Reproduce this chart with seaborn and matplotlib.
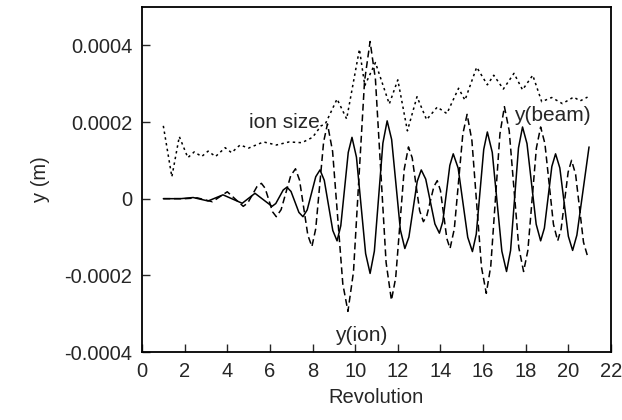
import numpy as np
import pandas as pd
import matplotlib
matplotlib.use("Agg")
import matplotlib.pyplot as plt
import seaborn as sns
from matplotlib.ticker import FixedLocator, FuncFormatter

# values, y in units of 1e-5 m

# beam centroid (solid line)
beam_rev = [1.0, 1.8, 2.4, 3.1, 3.8, 4.7, 5.3, 6.1, 6.275, 6.625, 6.8, 6.99, 7.36,
            7.55, 7.75, 8.15, 8.35, 8.55, 8.95, 9.15, 9.325, 9.675, 9.85, 10.06,
            10.49, 10.7, 10.9, 11.3, 11.5, 11.71, 12.12, 12.33, 12.52, 12.91, 13.1,
            13.31, 13.74, 13.95, 14.11, 14.44, 14.6, 14.83, 15.28, 15.5, 15.68,
            16.03, 16.2, 16.43, 16.88, 17.1, 17.29, 17.66, 17.85, 18.06, 18.49,
            18.7, 18.875, 19.225, 19.4, 19.6, 20.0, 20.2, 20.4, 20.97]
beam_y = [0, 0, 0.3, -0.6, 1.0, -1.2, 1.4, -2.0, -1.27, 2.27, 3.0, 1.88, -3.58,
          -4.7, -2.92, 5.72, 7.5, 4.8, -8.3, -11, -7.06, 12.06, 16, 10.82,
          -14.32, -19.5, -13.69, 14.49, 20.3, 15.44, -8.14, -13, -10.01, 4.51, 7.5,
          5.09, -6.59, -9, -5.98, 8.68, 11.7, 7.98, -10.08, -13.8, -9.24,
          12.84, 17.4, 12.09, -13.69, -19, -13.5, 13.2, 18.7, 14.36, -6.66,
          -11, -7.69, 8.39, 11.7, 8.02, -9.82, -13.5, -9.5, 13.5]

# ion centroid (dashed line)
ion_rev = [1.0, 2.0, 2.6, 3.3, 4.0, 4.75, 4.96, 5.39, 5.6, 5.775, 6.125, 6.3,
           6.525, 6.975, 7.2, 7.39, 7.78, 7.97, 8.15, 8.52, 8.7, 8.94, 9.42, 9.66,
           9.92, 10.44, 10.7, 10.95, 11.45, 11.7, 11.9, 12.3, 12.5, 12.675, 13.025,
           13.2, 13.36, 13.69, 13.85, 14.0, 14.3, 14.45, 14.65, 15.05, 15.25,
           15.475, 15.925, 16.15, 16.36, 16.79, 17.0, 17.225, 17.675, 17.9, 18.1,
           18.5, 18.7, 18.9, 19.3, 19.5, 19.66, 19.99, 20.15, 20.34, 20.71, 20.9]
ion_y = [0, 0, 0.2, -0.8, 1.8, -2.0, -1.12, 3.12, 4.0, 2.73, -3.43, -4.7,
         -2.87, 5.97, 7.8, 4.84, -9.54, -12.5, -7.83, 14.83, 19.5, 12.36, -22.26,
         -29.4, -19.12, 30.72, 41, 31.14, -16.64, -26.5, -20.66, 7.66, 13.5, 10.65,
         -3.15, -6.0, -4.44, 3.14, 4.7, 2.12, -10.42, -13, -7.89, 16.89, 22,
         15.18, -17.88, -24.7, -17.59, 16.89, 24, 17.72, -12.72, -19, -13.5,
         13.2, 18.7, 14.36, -6.66, -11, -7.93, 6.93, 10, 6.35, -11.35, -15]

# ion size (dotted line)
size_rev = [1.0, 1.4, 1.75, 2.15, 2.45, 2.8, 3.1, 3.45, 3.9, 4.2, 4.6, 5.0, 5.7,
            6.3, 6.9, 7.5, 8.0, 8.4, 8.6, 9.15, 9.6, 10.2, 10.45, 10.95, 11.6,
            12.0, 12.45, 12.9, 13.35, 13.85, 14.3, 14.85, 15.15, 15.7, 16.2, 16.5,
            16.95, 17.45, 17.85, 18.33, 18.75, 19.22, 19.72, 20.25, 20.55, 20.9]
size_y = [19.0, 5.7, 16.2, 10.7, 12.2, 11.0, 12.4, 11.0, 13.3, 12.0, 14.0, 13.2,
          14.8, 14.0, 14.8, 14.6, 16.0, 19.0, 19.5, 26.0, 20.8, 39.0, 29.5, 35.5,
          24.7, 31.0, 17.7, 26.6, 20.6, 23.9, 22.2, 28.8, 25.7, 34.3, 29.7, 32.2,
          28.6, 32.7, 28.4, 32.2, 25.3, 26.4, 24.8, 26.5, 25.5, 26.5]

x_ticks = [0, 2, 4, 6, 8, 10, 12, 14, 16, 18, 20, 22]
y_ticks = [-0.0004, -0.0002, 0, 0.0002, 0.0004]

sns.set_style("ticks")
plt.rcParams['font.family'] = ['Liberation Sans', 'DejaVu Sans']

fig = plt.figure(figsize=(6.22, 4.2), dpi=100)
ax = fig.add_axes([0.2283, 0.1619, 0.7540, 0.8214])

beam = pd.DataFrame({"rev": beam_rev, "y": np.array(beam_y) * 1e-5})
ion = pd.DataFrame({"rev": ion_rev, "y": np.array(ion_y) * 1e-5})
size = pd.DataFrame({"rev": size_rev, "y": np.array(size_y) * 1e-5})

sns.lineplot(data=size, x="rev", y="y", ax=ax, sort=False, color="black",
             lw=1.1, linestyle=(0, (1.6, 2.2)))
sns.lineplot(data=ion, x="rev", y="y", ax=ax, sort=False, color="black",
             lw=1.1, linestyle=(0, (4.5, 2.5)))
sns.lineplot(data=beam, x="rev", y="y", ax=ax, sort=False, color="black",
             lw=1.1)

ax.set_xlim(0, 22)
ax.set_ylim(-0.0004, 0.0005)
ax.xaxis.set_major_locator(FixedLocator(x_ticks))
ax.yaxis.set_major_locator(FixedLocator(y_ticks))

def fmt(v, pos):
    if abs(v) < 1e-12:
        return "0"
    return "%.4f" % v

ax.yaxis.set_major_formatter(FuncFormatter(fmt))
ax.tick_params(direction="in", length=6, width=1, labelsize=14.5, pad=7)
for s in ax.spines.values():
    s.set_linewidth(1.3)
    s.set_color("black")

ax.set_xlabel("Revolution", fontsize=14.5, labelpad=5)
ax.set_ylabel("y (m)", fontsize=14.5, labelpad=10)

ax.text(6.7, 0.0002, "ion size", fontsize=15, ha="center", va="center")
ax.text(19.25, 0.000216, "y(beam)", fontsize=15, ha="center", va="center")
ax.text(10.27, -0.000356, "y(ion)", fontsize=15, ha="center", va="center")

fig.savefig("out.png", dpi=100)
